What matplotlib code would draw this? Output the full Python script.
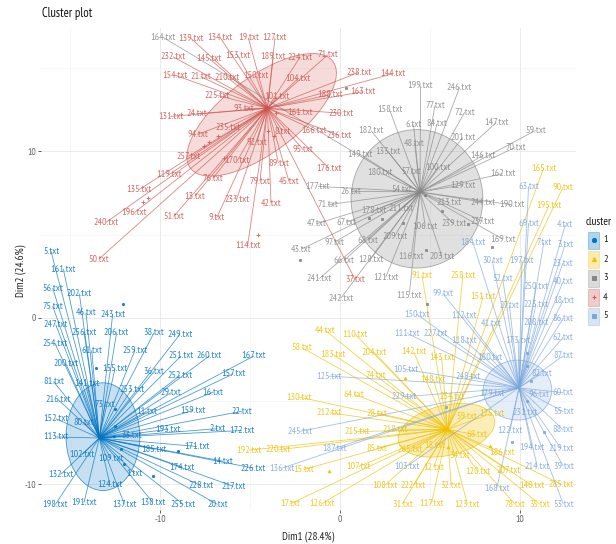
import logging
import matplotlib
matplotlib.use("Agg")
import matplotlib.pyplot as plt
from matplotlib.patches import Ellipse, Rectangle

FONT = ['PT Sans Narrow', 'Archivo Narrow', 'Roboto Condensed', 'Liberation Sans Narrow', 'Liberation Sans', 'DejaVu Sans']
logging.getLogger('matplotlib.font_manager').setLevel(logging.ERROR)
plt.rcParams['font.family'] = FONT
plt.rcParams['axes.unicode_minus'] = False

C1, C2, C3, C4, C5 = '#0073C2', '#EFC000', '#868686', '#CD534C', '#7AA6DC'

labels_1 = ["5","161","56","202","75","46","243","247","256","206","38","249","254","61","259","251","260","167","200","155","36","252","157","81","141","253","29","16","216","73","159","22","11","152","80","193","2","172","113","33","185","171","14","226","102","109","174","1","132","228","217","124","138","198","191","137","255","20"]
x_1 = [-16.07,-15.39,-15.98,-14.5,-15.98,-14.13,-12.65,-15.81,-14.24,-12.43,-10.35,-8.91,-15.85,-13.81,-11.41,-8.85,-7.28,-4.8,-15.26,-12.52,-10.35,-8.91,-5.94,-15.94,-14.09,-11.59,-9.41,-7.06,-15.67,-13.07,-8.17,-5.48,-10.76,-15.81,-14.28,-9.56,-6.83,-5.48,-15.81,-11.59,-10.33,-7.98,-6.54,-4.83,-14.33,-12.74,-8.78,-11.41,-15.54,-7.74,-5.94,-12.8,-10.43,-15.83,-14.24,-12.0,-8.72,-6.83]
y_1 = [3.99,2.93,1.78,1.44,0.7,0.3,0.2,-0.42,-0.86,-0.9,-0.9,-1.0,-1.56,-1.96,-1.96,-2.3,-2.3,-2.3,-2.75,-3.07,-3.23,-3.47,-3.37,-3.83,-3.93,-4.31,-4.51,-4.47,-4.93,-5.19,-5.57,-5.63,-5.63,-6.07,-6.27,-6.71,-6.67,-6.78,-7.17,-7.07,-7.92,-7.74,-8.62,-9.04,-8.22,-8.48,-8.98,-9.38,-9.42,-10.1,-10.14,-10.04,-11.08,-11.22,-11.12,-11.22,-11.22,-11.22]

labels_2 = ["165","90","195","91","258","151","44","110","58","183","204","142","143","74","148","234","64","212","28","130","215","218","59","175","68","85","265","18","34","107","12","108","222","32","120","207","140","285","186","31","117","123","78","35","126","17","192","220","15"]
x_2 = [11.3,12.37,11.59,4.54,6.81,7.94,-0.85,0.81,-2.13,-0.43,1.89,4.07,5.63,1.98,5.17,6.22,0.76,-0.61,2.06,-2.3,0.91,3.04,7.0,8.41,7.57,2.02,3.87,5.26,6.65,1.0,5.19,2.48,4.07,6.15,7.67,9.33,10.67,12.26,9.0,3.44,5.07,7.06,9.7,11.06,-1.0,-2.76,-5.07,-3.44,-2.02]
y_2 = [8.99,7.84,6.73,2.53,2.53,1.3,-0.74,-0.98,-1.8,-2.19,-2.09,-2.05,-2.39,-3.49,-3.69,-4.75,-4.61,-5.71,-5.73,-4.77,-6.85,-6.75,-5.91,-5.75,-7.05,-7.86,-7.9,-7.66,-8.26,-8.96,-8.98,-10.06,-10.06,-10.06,-9.26,-9.2,-10.1,-10.0,-8.12,-11.2,-11.16,-11.2,-11.2,-11.2,-11.16,-11.18,-7.96,-7.94,-9.12]

labels_3 = ["164","199","246","158","77","72","6","84","147","59","182","201","48","133","149","70","146","100","57","180","162","129","54","26","177","244","190","213","71","178","211","47","67","239","237","106","209","97","68","169","116","203","128","66","43","241","121","242","115"]
x_3 = [-9.83,4.46,6.63,2.74,5.26,6.91,4.07,5.37,8.67,10.85,1.72,6.81,4.13,2.65,1.07,9.72,7.93,5.43,3.94,2.19,9.02,6.81,3.43,0.61,-1.24,7.93,9.54,6.07,-0.69,1.85,3.39,-1.33,0.33,6.3,7.93,4.72,3.02,-0.31,1.54,9.02,3.94,5.65,1.69,0.19,-2.15,-1.17,2.52,0.02,3.83]
y_3 = [16.85,13.95,13.85,12.5,12.77,12.36,11.62,11.66,11.74,11.26,11.24,10.84,10.48,10.0,9.84,10.24,9.76,9.06,8.82,8.74,8.66,7.98,7.7,7.6,7.9,6.95,6.79,6.91,6.79,6.45,6.55,5.65,5.73,5.65,5.79,5.49,4.89,4.55,4.65,4.73,3.69,3.69,3.53,3.43,4.13,2.35,2.42,1.16,1.36]

labels_4 = ["139","134","19","127","232","145","153","189","224","71","104","154","21","210","150","225","101","93","131","24","235","94","92","8","257","170","119","89","76","79","45","135","13","233","42","196","51","9","240","114","50","238","144","163","188","230","161","166","236","95","176","37"]
x_4 = [-8.3,-6.67,-5.11,-3.63,-9.3,-7.3,-5.69,-3.72,-2.24,-0.69,-2.33,-9.2,-7.76,-6.3,-4.69,-6.85,-3.5,-5.33,-9.43,-8.0,-6.26,-7.94,-4.65,-3.2,-8.44,-5.72,-9.52,-3.44,-7.09,-4.46,-2.85,-11.19,-8.09,-5.76,-3.85,-11.43,-9.26,-6.87,-13.02,-5.15,-13.41,1.02,2.91,1.28,-0.56,0.06,-2.24,-1.43,-0.07,-2.06,-0.63,0.83]
y_4 = [16.8,16.83,16.83,16.83,15.69,15.6,15.75,15.69,15.67,15.81,14.4,14.59,14.5,14.45,14.55,13.37,13.29,12.57,12.1,12.26,11.42,11.02,10.54,11.2,9.7,9.44,8.6,9.28,8.36,8.2,8.2,7.7,7.3,7.13,6.87,6.33,6.09,6.01,5.73,4.33,3.53,14.75,14.67,13.59,13.41,12.3,12.34,11.26,10.96,10.1,9.0,2.28]

labels_5 = ["63","69","4","7","3","184","30","197","23","52","40","250","18","99","27","223","150","112","41","208","86","111","227","118","173","62","180","87","105","125","248","82","60","96","179","55","231","122","88","194","219","214","39","168","53","245","136","229","103","187"]
x_5 = [10.46,10.46,12.5,11.31,12.5,7.37,8.44,10.09,12.37,9.02,12.39,10.87,12.39,5.69,9.39,10.87,4.24,6.87,8.37,10.87,12.39,3.72,5.3,6.87,9.89,12.39,8.31,12.39,3.63,-0.63,7.11,11.19,12.39,11.06,8.41,12.39,10.26,9.43,12.39,10.63,12.26,10.94,12.39,8.69,12.39,-2.24,-3.22,3.54,3.72,-0.33]
y_5 = [7.9,5.69,5.59,4.53,4.43,4.53,3.45,3.45,3.29,2.36,2.2,1.9,1.06,1.46,0.76,0.82,0.22,0.16,-0.34,-0.28,-0.04,-0.94,-0.94,-1.34,-1.34,-1.18,-2.4,-2.28,-3.11,-3.51,-3.51,-3.35,-4.51,-4.59,-4.55,-5.65,-5.69,-6.79,-6.75,-7.8,-7.86,-8.92,-8.92,-10.26,-11.2,-6.83,-9.04,-4.75,-8.92,-7.86]

centers_x = [-13.39, 5.96, 4.43, -4.05, 9.93]
centers_y = [-7.23, -6.71, 7.56, 12.6, -4.21]

pts_1_x = [-12.1,-13.6,-12.5,-12.5,-12.6,-12.2,-9.0,-12.0,-10.4]
pts_1_y = [0.8,-3.0,-5.5,-6.5,-7.1,-7.9,-8.0,-8.8,-9.5]
pts_2_x = [3.6,8.3,-0.6,6.0]
pts_2_y = [-3.65,-7.7,-9.2,-7.8]
pts_3_x = [0.3,1.6,2.3,3.5,5.67,7.1,4.7,8.45,4.75,-2.25,4.8]
pts_3_y = [13.8,6.0,5.95,5.7,6.4,5.65,7.4,4.25,4.1,3.5,0.85]
pts_4_x = [-4.6,-10.7,-10.95,-7.6,-7.3,-6.8,-6.45,-4.0,-3.7,-3.6]
pts_4_y = [4.95,7.2,6.95,10.3,10.55,10.95,9.6,11.2,10.9,12.3]
pts_5_x = [10.4,10.4,10.6,10.4,11.3,9.55,5.9]
pts_5_y = [-2.15,-2.9,-3.8,-5.0,-6.9,-7.45,-5.35]

ell_x = [-13.19, 5.9, 4.26, -4.37, 9.85]
ell_y = [-7.15, -6.77, 7.15, 12.2, -4.35]
ell_w = [4.1, 5.5, 7.32, 10.2, 3.8]
ell_h = [6.48, 3.0, 8.32, 4.4, 3.6]
ell_angle = [0, 15, 0, 40, 0]
ell_alpha = [0.22, 0.28, 0.25, 0.2, 0.2]

fig = plt.figure(figsize=(6.16, 5.44), dpi=100)
W, H = 616, 544
ax = fig.add_axes([41/W, 1-510/H, (575.7-41)/W, (510-28)/H])
ax.set_xlim(-16.63, 13.08)
ax.set_ylim(-11.56, 17.42)

for s in ax.spines.values():
    s.set_visible(False)
ax.set_axisbelow(True)
ax.set_xticks([-10, 0, 10])
ax.set_yticks([-10, 0, 10])
ax.set_xticks([-15, -5, 5], minor=True)
ax.set_yticks([-5, 5, 15], minor=True)
ax.grid(True, which='major', color='#EBEBEB', lw=0.7)
ax.grid(True, which='minor', color='#F3F3F3', lw=0.5)
ax.tick_params(which='minor', length=0)
ax.tick_params(which='major', length=2.2, width=0.6, color='#444444',
               labelsize=7, labelcolor='#666666', pad=1.5)

groups = [
    (C1, labels_1, x_1, y_1, pts_1_x, pts_1_y, 'o', 1.6),
    (C2, labels_2, x_2, y_2, pts_2_x, pts_2_y, '^', 2.0),
    (C3, labels_3, x_3, y_3, pts_3_x, pts_3_y, 's', 1.9),
    (C4, labels_4, x_4, y_4, pts_4_x, pts_4_y, '+', 3.5),
    (C5, labels_5, x_5, y_5, pts_5_x, pts_5_y, 's', 1.9),
]

for i, (c, names, xs, ys, px, py, mk, ms) in enumerate(groups):
    ax.add_patch(Ellipse((ell_x[i], ell_y[i]), ell_w[i], ell_h[i], angle=ell_angle[i],
                         facecolor=c, alpha=ell_alpha[i], edgecolor='none', zorder=2))
    ax.add_patch(Ellipse((ell_x[i], ell_y[i]), ell_w[i], ell_h[i], angle=ell_angle[i],
                         facecolor='none', edgecolor=c, alpha=0.7, lw=0.6, zorder=2))
    for xv, yv in zip(xs, ys):
        ax.plot([centers_x[i], xv], [centers_y[i], yv], color=c, lw=0.6, alpha=0.7,
                zorder=3, solid_capstyle='butt')
    ax.plot(px, py, ls='none', marker=mk, ms=ms, mew=0.6, color=c, alpha=0.9, zorder=4)
    for name, xv, yv in zip(names, xs, ys):
        ax.text(xv, yv, name + '.txt', color=c, fontsize=7.2, ha='center', va='center',
                alpha=0.85, zorder=5, clip_on=False)

fig.text(308/W, 1-537/H, 'Dim1 (28.4%)', fontsize=8, color='#222222', ha='center', va='center')
fig.text(21/W, 1-271/H, 'Dim2 (24.6%)', fontsize=8, color='#222222', ha='center', va='center', rotation=90)
fig.text(42/W, 1-14/H, 'Cluster plot', fontsize=9, color='#111111', ha='left', va='center')

# legend
fig.text(599/W, 1-222/H, 'cluster', fontsize=8, color='#111111', ha='center', va='center')
ys_leg = [240, 259, 278, 297, 316]
cols = [C1, C2, C3, C4, C5]
mks = ['o', '^', 's', '+', 's']
for name, yp, c, mk in zip(['1', '2', '3', '4', '5'], ys_leg, cols, mks):
    fig.add_artist(Rectangle((588/W, 1-(yp+8.5)/H), 11/W, 17/H, transform=fig.transFigure,
                             facecolor=c, alpha=0.3, edgecolor=c, lw=0.7))
    fig.add_artist(plt.Line2D([593.5/W], [1-yp/H], transform=fig.transFigure, marker=mk, ms=3,
                              ls='none', color=c, mew=0.7))
    fig.text(603/W, 1-yp/H, name, fontsize=7.5, color='#222222', ha='left', va='center')

fig.savefig('out.png', dpi=100)
